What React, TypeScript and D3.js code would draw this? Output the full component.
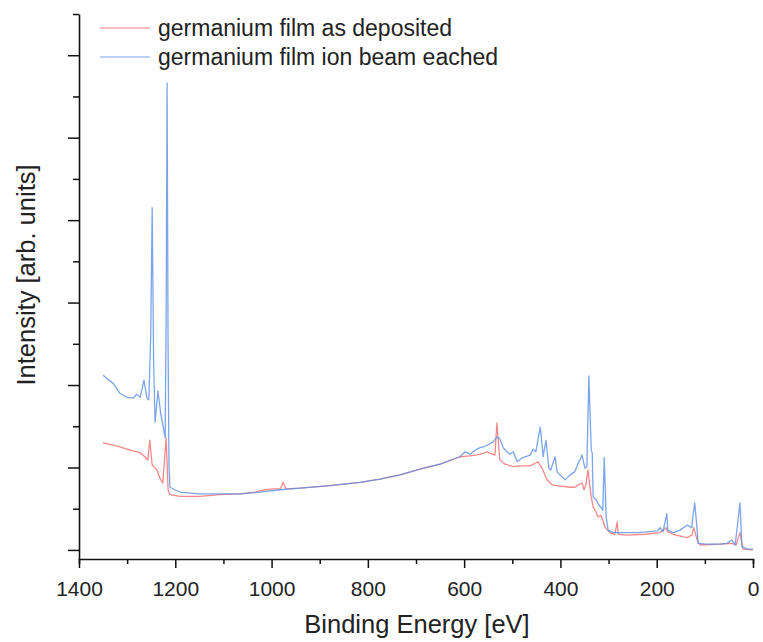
import { useEffect, useRef } from "react";
import * as d3 from "d3";

// binding energy [eV] and intensity (arb. units)
const etchedEnergy = [1350, 1340, 1329, 1315, 1300, 1288, 1280, 1273, 1265, 1259, 1255, 1251, 1248, 1245, 1242, 1236, 1230, 1226, 1221, 1219, 1217, 1215, 1213, 1211, 1201, 1190, 1169, 1149, 1107, 1066, 1024, 982, 941, 879, 816, 775, 733, 692, 650, 609, 598, 588, 577, 567, 555, 540, 532, 526, 519, 511, 505, 498, 490, 478, 463, 457, 451, 447, 442, 437, 436, 430, 424, 420, 411, 407, 401, 390, 380, 370, 363, 355, 349, 345, 341, 336, 334, 332, 326, 322, 314, 312, 309, 305, 301, 291, 262, 241, 220, 199, 193, 187, 179, 177, 166, 152, 137, 127, 125, 121, 116, 114, 96, 69, 54, 44, 37, 27, 23, 12, 0];
const etchedIntensity = [2.12, 2.07, 2.02, 1.9, 1.85, 1.84, 1.89, 1.85, 2.06, 1.84, 1.82, 2.6, 4.15, 2.3, 1.55, 1.93, 1.64, 1.52, 1.36, 2.8, 5.66, 2.5, 1.0, 0.76, 0.73, 0.7, 0.69, 0.68, 0.68, 0.68, 0.7, 0.73, 0.75, 0.78, 0.82, 0.86, 0.91, 0.98, 1.04, 1.13, 1.19, 1.16, 1.21, 1.24, 1.26, 1.31, 1.37, 1.35, 1.24, 1.19, 1.16, 1.19, 1.07, 1.12, 1.15, 1.22, 1.19, 1.33, 1.49, 1.21, 1.13, 1.33, 0.99, 0.97, 1.13, 0.95, 0.91, 0.85, 0.91, 0.95, 1.05, 1.15, 0.99, 1.01, 2.11, 1.21, 1.18, 0.64, 0.61, 0.56, 0.5, 0.48, 1.12, 0.4, 0.24, 0.21, 0.21, 0.21, 0.22, 0.23, 0.27, 0.22, 0.44, 0.24, 0.21, 0.24, 0.3, 0.27, 0.4, 0.57, 0.24, 0.08, 0.07, 0.07, 0.08, 0.12, 0.06, 0.57, 0.04, 0.01, 0.01];

const depositedEnergy = [1350, 1336, 1315, 1294, 1273, 1263, 1257, 1253, 1248, 1244, 1238, 1232, 1226, 1219, 1215, 1211, 1190, 1149, 1107, 1066, 1034, 1014, 993, 982, 976, 970, 941, 879, 816, 775, 733, 692, 650, 609, 588, 567, 553, 536, 532, 526, 515, 498, 484, 463, 447, 438, 428, 417, 407, 380, 370, 363, 355, 351, 347, 343, 336, 332, 326, 322, 316, 312, 307, 297, 287, 282, 280, 262, 224, 193, 181, 177, 166, 137, 127, 123, 116, 110, 69, 44, 35, 27, 21, 0];
const depositedIntensity = [1.3, 1.28, 1.25, 1.21, 1.18, 1.13, 1.09, 1.33, 1.03, 1.01, 0.97, 0.87, 0.81, 1.36, 0.73, 0.67, 0.65, 0.65, 0.67, 0.68, 0.7, 0.73, 0.74, 0.74, 0.82, 0.74, 0.75, 0.78, 0.82, 0.86, 0.91, 0.98, 1.04, 1.13, 1.14, 1.16, 1.19, 1.15, 1.54, 1.09, 1.04, 1.01, 1.02, 1.02, 1.07, 0.99, 0.85, 0.79, 0.78, 0.76, 0.76, 0.79, 0.81, 0.73, 0.79, 0.97, 0.64, 0.52, 0.46, 0.4, 0.42, 0.36, 0.27, 0.21, 0.19, 0.34, 0.19, 0.18, 0.19, 0.21, 0.27, 0.22, 0.19, 0.15, 0.18, 0.27, 0.12, 0.06, 0.07, 0.08, 0.06, 0.21, 0.01, 0];

const xTicks = [1400, 1200, 1000, 800, 600, 400, 200, 0];
const legendLabels = ["germanium film as deposited", "germanium film ion beam eached"];

export default function App() {
  const svgRef = useRef<SVGSVGElement>(null);

  useEffect(() => {
    const width = 763;
    const height = 642;
    const margin = { top: 14, right: 10, bottom: 83, left: 79 };
    const font = "'Liberation Sans', Arial, sans-serif";

    const svg = d3.select(svgRef.current).attr("width", width).attr("height", height);
    svg.selectAll("*").remove();

    const x = d3.scaleLinear().domain([1400, 0]).range([margin.left, 753]);
    const y = d3.scaleLinear().domain([-0.11, 6.5]).range([height - margin.bottom, margin.top]);

    const line = d3.line<[number, number]>()
      .x(d => x(d[0]))
      .y(d => y(d[1]));

    const deposited = depositedEnergy.map((e, i) => [e, depositedIntensity[i]] as [number, number]);
    const etched = etchedEnergy.map((e, i) => [e, etchedIntensity[i]] as [number, number]);

    svg.append("path")
      .datum(deposited)
      .attr("fill", "none")
      .attr("stroke", "#f26b6b")
      .attr("stroke-opacity", 0.8)
      .attr("stroke-width", 1.3)
      .attr("stroke-linejoin", "round")
      .attr("d", line);

    svg.append("path")
      .datum(etched)
      .attr("fill", "none")
      .attr("stroke", "#5b8fe3")
      .attr("stroke-opacity", 0.8)
      .attr("stroke-width", 1.3)
      .attr("stroke-linejoin", "round")
      .attr("d", line);

    // x axis
    const xAxis = svg.append("g").attr("transform", `translate(0,${height - margin.bottom})`);
    xAxis.call(d3.axisBottom(x).tickValues(d3.range(100, 1400, 200)).tickSize(5).tickFormat(() => ""));
    xAxis.call(g => g.append("g").call(
      d3.axisBottom(x).tickValues(xTicks).tickSize(9).tickPadding(13).tickFormat(d3.format("d"))
    ));
    xAxis.selectAll("path.domain").attr("stroke-width", 1.6).attr("stroke", "#111");
    xAxis.selectAll("line").attr("stroke-width", 1.5).attr("stroke", "#111");
    xAxis.selectAll("text").attr("font-family", font).attr("font-size", 21).attr("fill", "#222");
    xAxis.selectAll("g > g > path.domain").remove();

    // y axis without labels
    const yAxis = svg.append("g").attr("transform", `translate(${margin.left},0)`);
    yAxis.call(d3.axisLeft(y).tickValues(d3.range(0.5, 7, 1)).tickSize(6).tickFormat(() => "").tickSizeOuter(0));
    yAxis.call(g => g.append("g").call(d3.axisLeft(y).tickValues(d3.range(0, 7, 1)).tickSize(11).tickFormat(() => "")));
    yAxis.selectAll("path.domain").attr("stroke-width", 1.6).attr("stroke", "#111");
    yAxis.selectAll("line").attr("stroke-width", 1.5).attr("stroke", "#111");
    yAxis.selectAll("g > g > path.domain").remove();

    svg.append("text")
      .attr("x", 417)
      .attr("y", 633)
      .attr("text-anchor", "middle")
      .attr("font-family", font)
      .attr("font-size", 25.5)
      .attr("fill", "#222")
      .text("Binding Energy [eV]");

    svg.append("text")
      .attr("transform", `translate(35,275) rotate(-90)`)
      .attr("text-anchor", "middle")
      .attr("font-family", font)
      .attr("font-size", 25.5)
      .attr("fill", "#222")
      .text("Intensity [arb. units]");

    // legend
    const legendColors = ["#f6a3a3", "#a6c3f2"];
    legendLabels.forEach((label, i) => {
      const ly = 28 + i * 29;
      svg.append("line")
        .attr("x1", 100).attr("x2", 150)
        .attr("y1", ly).attr("y2", ly)
        .attr("stroke", legendColors[i])
        .attr("stroke-width", 1.6);
      svg.append("text")
        .attr("x", 158)
        .attr("y", ly)
        .attr("dy", "0.35em")
        .attr("font-family", font)
        .attr("font-size", 23)
        .attr("fill", "#222")
        .text(label);
    });
  }, []);

  return (
    <div>
      <svg ref={svgRef} style={{ position: "absolute", left: 0, top: 0 }}></svg>
    </div>
  );
}
